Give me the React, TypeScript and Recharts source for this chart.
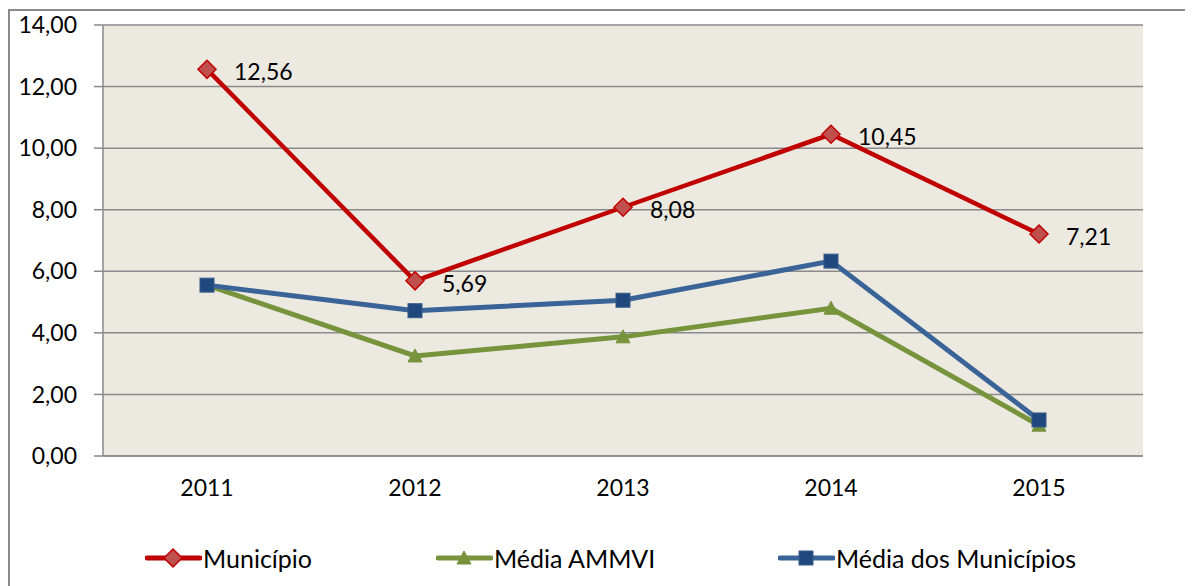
import { LineChart, Line, XAxis, YAxis, CartesianGrid, LabelList } from 'recharts'

const years = ['2011', '2012', '2013', '2014', '2015']
const municipio = [12.56, 5.69, 8.08, 10.45, 7.21]
const mediaAmmvi = [5.55, 3.25, 3.87, 4.8, 1.0]
const mediaMunicipios = [5.55, 4.72, 5.06, 6.33, 1.17]
const yTicks = [0, 2, 4, 6, 8, 10, 12, 14]

const data = years.map((year, i) => ({
  year,
  municipio: municipio[i],
  ammvi: mediaAmmvi[i],
  municipios: mediaMunicipios[i],
}))

const FONT = 'Lato, "Open Sans", sans-serif'
const RED = '#C00000'
const GREEN = '#77933C'
const BLUE = '#3A6397'
const GRID = '#8A8A8A'

const fmt = (v: number) => v.toFixed(2).replace('.', ',')

function Diamond({ cx, cy, size = 9 }: { cx: number; cy: number; size?: number }) {
  return (
    <path
      d={`M${cx},${cy - size} L${cx + size},${cy} L${cx},${cy + size} L${cx - size},${cy} Z`}
      fill="#C0504D"
      stroke={RED}
      strokeWidth={1.5}
    />
  )
}

function Triangle({ cx, cy }: { cx: number; cy: number }) {
  return <path d={`M${cx},${cy - 7} L${cx + 7},${cy + 6} L${cx - 7},${cy + 6} Z`} fill={GREEN} stroke={GREEN} strokeWidth={1} />
}

function Square({ cx, cy }: { cx: number; cy: number }) {
  return <rect x={cx - 7} y={cy - 7} width={14} height={14} fill="#1F497D" stroke="#385D8A" strokeWidth={1} />
}

function renderLabel(props: any) {
  const { x, y, value } = props
  return (
    <text x={x + 27} y={y + 2} fontSize={23} fontFamily={FONT} fill="#000" dominantBaseline="central">
      {fmt(Number(value))}
    </text>
  )
}

const legendItems = [
  { name: 'Município', color: RED, left: 135, marker: 'diamond' },
  { name: 'Média AMMVI', color: GREEN, left: 426, marker: 'triangle' },
  { name: 'Média dos Municípios', color: BLUE, left: 768, marker: 'square' },
]

function LegendIcon({ color, marker }: { color: string; marker: string }) {
  return (
    <svg width={57} height={22} style={{ display: 'block' }}>
      <line x1={2} y1={11} x2={55} y2={11} stroke={color} strokeWidth={5} strokeLinecap="round" />
      {marker === 'diamond' && <Diamond cx={28} cy={11} size={9} />}
      {marker === 'triangle' && <Triangle cx={28} cy={11} />}
      {marker === 'square' && <Square cx={28} cy={11} />}
    </svg>
  )
}

export default function App() {
  return (
    <div
      style={{
        position: 'relative',
        marginTop: 1,
        width: 1175,
        height: 575,
        borderLeft: `2px solid ${GRID}`,
        borderTop: `2px solid ${GRID}`,
        fontFamily: FONT,
        background: '#fff',
      }}
    >
      <LineChart width={1175} height={520} data={data} margin={{ top: 14, right: 42, left: 0, bottom: 0 }}>
        <CartesianGrid vertical={false} stroke={GRID} strokeWidth={1.5} fill="#ECE9E0" fillOpacity={1} />
        <XAxis
          dataKey="year"
          padding={{ left: 104, right: 104 }}
          height={75}
          tickLine={false}
          tickSize={0}
          tickMargin={24}
          axisLine={{ stroke: GRID, strokeWidth: 1.5 }}
          tick={{ fontSize: 23, fill: '#000', fontFamily: FONT }}
        />
        <YAxis
          domain={[0, 14]}
          ticks={yTicks}
          width={93}
          tickFormatter={fmt}
          tickSize={9}
          tickMargin={17}
          tickLine={{ stroke: GRID, strokeWidth: 1.5 }}
          axisLine={{ stroke: GRID, strokeWidth: 1.5 }}
          tick={{ fontSize: 23, fill: '#000', fontFamily: FONT }}
          interval={0}
        />
        <Line
          dataKey="municipio"
          name="Município"
          stroke={RED}
          strokeWidth={4.5}
          isAnimationActive={false}
          dot={(p: any) => <Diamond key={`d${p.index}`} cx={p.cx} cy={p.cy} />}
          activeDot={false}
        >
          <LabelList dataKey="municipio" content={renderLabel} />
        </Line>
        <Line
          dataKey="ammvi"
          name="Média AMMVI"
          stroke={GREEN}
          strokeWidth={5}
          isAnimationActive={false}
          dot={(p: any) => <Triangle key={`t${p.index}`} cx={p.cx} cy={p.cy} />}
          activeDot={false}
        />
        <Line
          dataKey="municipios"
          name="Média dos Municípios"
          stroke={BLUE}
          strokeWidth={5}
          isAnimationActive={false}
          dot={(p: any) => <Square key={`s${p.index}`} cx={p.cx} cy={p.cy} />}
          activeDot={false}
        />
      </LineChart>
      {legendItems.map((item) => (
        <div
          key={item.name}
          style={{ position: 'absolute', left: item.left, top: 532, height: 30, display: 'flex', alignItems: 'center', fontSize: 25, color: '#000' }}
        >
          <LegendIcon color={item.color} marker={item.marker} />
          <span style={{ marginLeft: 1 }}>{item.name}</span>
        </div>
      ))}
    </div>
  )
}
